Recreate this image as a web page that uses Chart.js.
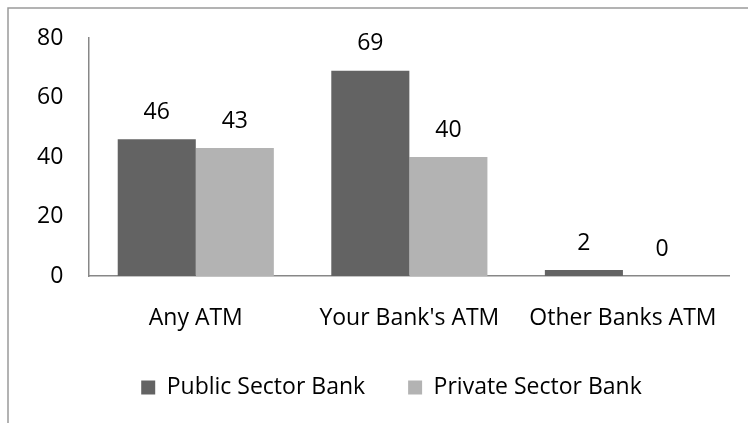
<!DOCTYPE html>
<html>
<head>
<meta charset="utf-8">
<style>
  html, body { margin: 0; padding: 0; background: #fff; }
  #wrap { position: relative; width: 748px; height: 423px; }
</style>
</head>
<body>
<div id="wrap"><canvas id="atmChart" width="748" height="423"></canvas></div>
<script src="https://cdn.jsdelivr.net/npm/chart.js@4/dist/chart.umd.min.js"></script>
<script>
// ATM usage by bank sector
const categories = ["Any ATM", "Your Bank's ATM", "Other Banks ATM"];
const publicSector = [46, 69, 2];
const privateSector = [43, 40, 0];
const yTicks = [0, 20, 40, 60, 80];

const FONT = { family: "'Open Sans', sans-serif", size: 23 };
const AXIS_GREY = '#878787';

// Frame lines along the top and left edge of the canvas
const framePlugin = {
  id: 'frame',
  beforeDraw: (chart) => {
    const ctx = chart.ctx;
    ctx.save();
    ctx.strokeStyle = '#9a9a9a';
    ctx.lineWidth = 1.5;
    ctx.beginPath();
    ctx.moveTo(8, chart.height);
    ctx.lineTo(8, 8);
    ctx.lineTo(chart.width, 8);
    ctx.stroke();
    ctx.restore();
  }
};

// Value labels drawn above each bar
const valueLabels = {
  id: 'valueLabels',
  afterDatasetsDraw: (chart) => {
    const ctx = chart.ctx;
    ctx.save();
    ctx.font = FONT.size + 'px ' + FONT.family;
    ctx.fillStyle = '#000';
    ctx.textAlign = 'center';
    ctx.textBaseline = 'middle';
    chart.data.datasets.forEach((ds, i) => {
      const meta = chart.getDatasetMeta(i);
      meta.data.forEach((bar, j) => {
        ctx.fillText(String(ds.data[j]), bar.x, bar.y - 27);
      });
    });
    ctx.restore();
  }
};

new Chart(document.getElementById('atmChart'), {
  type: 'bar',
  data: {
    labels: categories,
    datasets: [
      { label: 'Public Sector Bank', data: publicSector, backgroundColor: '#636363' },
      { label: 'Private Sector Bank', data: privateSector, backgroundColor: '#b3b3b3' }
    ]
  },
  options: {
    responsive: false,
    animation: false,
    events: [],
    barPercentage: 1,
    categoryPercentage: 0.731,
    layout: { padding: { top: 38, left: 50, right: 15, bottom: 14 } },
    plugins: {
      legend: {
        position: 'bottom',
        labels: {
          color: '#000',
          font: FONT,
          boxWidth: 14,
          boxHeight: 14,
          padding: 43
        }
      },
      tooltip: { enabled: false }
    },
    scales: {
      x: {
        grid: { display: false, drawTicks: false },
        border: { display: true, color: AXIS_GREY, width: 1.5 },
        afterFit: (scale) => { scale.height = 57; },
        ticks: { color: '#000', font: FONT, padding: 29, maxRotation: 0 }
      },
      y: {
        min: yTicks[0],
        max: yTicks[yTicks.length - 1],
        grid: { display: false, drawTicks: false },
        border: { display: true, color: AXIS_GREY, width: 1.5 },
        afterFit: (scale) => { scale.width = 39; },
        afterBuildTicks: (scale) => { scale.ticks = yTicks.map(v => ({ value: v })); },
        // mirrored labels pushed back out to the left of the axis line
        ticks: { color: '#000', font: FONT, mirror: true, crossAlign: 'far', padding: -52 }
      }
    }
  },
  plugins: [framePlugin, valueLabels]
});
</script>
</body>
</html>
